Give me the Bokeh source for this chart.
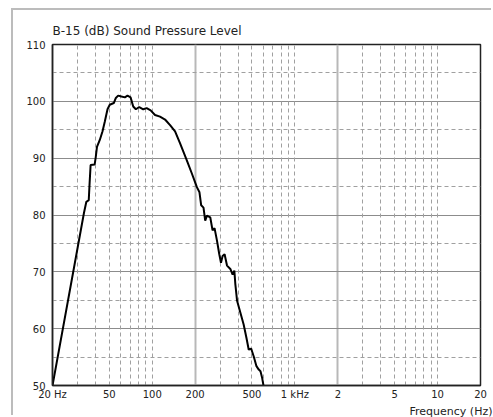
from bokeh.plotting import figure
from bokeh.models import Range1d, FixedTicker, Grid, Title
from bokeh.embed import file_html
from bokeh.resources import INLINE

# ---- data ----
freq_hz = [20, 33.2, 34.5, 35.9, 36.4, 37.0, 39.5, 40.2, 41.0, 42.9, 44.8, 46.5,
           48.6, 50.4, 53.8, 55.6, 57.7, 60.9, 64.3, 67.1, 70.5, 73.6, 76.8,
           81.1, 86.5, 91.4, 97.5, 104.6, 113.4, 123.0, 133.4, 144.6, 156.8,
           174.8, 189.6, 205.6, 214.4, 220.4, 228.8, 235.2, 241.8, 255.1,
           264.8, 273.4, 284.4, 295.2, 303.4, 311.4, 321.6, 334.4, 352.8,
           366.2, 376.4, 382.6, 393.4, 415.0, 437.8, 457.4, 474.8, 493.6,
           514.8, 537.8, 558.2, 574.0, 589.8, 602.4]
spl_db = [50.0, 80.3, 82.3, 82.6, 85.6, 88.8, 88.9, 90.2, 92.0, 93.2, 94.7, 96.4,
          98.6, 99.4, 99.7, 100.6, 101.0, 100.85, 100.7, 101.0, 100.7, 99.1, 98.6,
          99.0, 98.6, 98.8, 98.4, 97.6, 97.3, 96.8, 95.8, 94.7, 92.6,
          89.6, 87.3, 84.9, 84.0, 81.7, 81.3, 79.0, 79.9, 79.6,
          77.3, 77.7, 75.5, 73.1, 71.6, 72.8, 73.1, 71.1, 70.5,
          69.5, 70.2, 67.8, 64.9, 62.8, 60.7, 58.4, 56.3, 56.5,
          55.1, 53.4, 52.8, 52.5, 51.3, 50.0]

y_ticks = [50, 60, 70, 80, 90, 100, 110]
y_minor = [55, 65, 75, 85, 95, 105]
x_ticks = [20, 50, 100, 200, 500, 1000, 2000, 5000, 10000, 20000]
x_labels = ["20 Hz", "50", "100", "200", "500", "1 kHz", "2", "5", "10", "20"]
x_solid = [200, 2000]
x_dashed = [30, 40, 50, 60, 70, 80, 90, 100,
            300, 400, 500, 600, 700, 800, 900, 1000,
            3000, 4000, 5000, 6000, 7000, 8000, 9000, 10000]

FONT = "DejaVu Sans"

p = figure(width=480, height=407, x_axis_type="log",
           x_range=Range1d(20, 20000), y_range=Range1d(50, 110),
           output_backend="svg", toolbar_location=None,
           min_border_left=39, min_border_right=13,
           min_border_top=34, min_border_bottom=32)
# light outer frame of the whole chart (left and top edges visible in the window)
p.styles = {"margin-left": "13px", "margin-top": "10px",
            "box-shadow": "-2px -2px 0px 0px #bcbcbc"}

p.title.text = "B-15 (dB) Sound Pressure Level"
p.title.text_font = FONT
p.title.text_font_size = "12px"
p.title.text_font_style = "normal"
p.title.text_color = "#222222"
p.title.align = "left"
p.title.standoff = 13

p.outline_line_color = "#222222"
p.outline_line_width = 1.5

# axes
for ax in (p.xaxis[0], p.yaxis[0]):
    ax.axis_line_color = "#222222"
    ax.axis_line_width = 1.5
    ax.major_tick_out = 0
    ax.major_tick_in = 0
    ax.minor_tick_out = 0
    ax.minor_tick_in = 0
    ax.major_label_text_font = FONT
    ax.major_label_text_font_size = "10px"
    ax.major_label_text_color = "#222222"

p.yaxis.ticker = FixedTicker(ticks=y_ticks)
p.yaxis.major_label_standoff = 7
p.xaxis.ticker = FixedTicker(ticks=x_ticks)
p.xaxis.major_label_overrides = {t: l for t, l in zip(x_ticks, x_labels)}
p.xaxis.major_label_text_align = "left"
p.xaxis.major_label_standoff = 3

xlab = Title(text="Frequency (Hz)", align="right", text_font=FONT,
             text_font_size="11px", text_font_style="normal",
             text_color="#222222", offset=-12, standoff=0)
p.add_layout(xlab, "below")

# grids
p.ygrid.ticker = FixedTicker(ticks=y_ticks)
p.ygrid.grid_line_color = "#8c8c8c"
p.ygrid.grid_line_width = 1
p.xgrid.ticker = FixedTicker(ticks=x_solid)
p.xgrid.grid_line_color = "#b8b8b8"
p.xgrid.grid_line_width = 2

p.add_layout(Grid(dimension=1, ticker=FixedTicker(ticks=y_minor),
                  grid_line_color="#a0a0a0", grid_line_dash="4 3",
                  grid_line_width=1))
p.add_layout(Grid(dimension=0, ticker=FixedTicker(ticks=x_dashed),
                  grid_line_color="#a0a0a0", grid_line_dash="4 3",
                  grid_line_width=1))

p.line(freq_hz, spl_db, line_color="black", line_width=2)

open("out.html", "w").write(file_html(p, INLINE))
